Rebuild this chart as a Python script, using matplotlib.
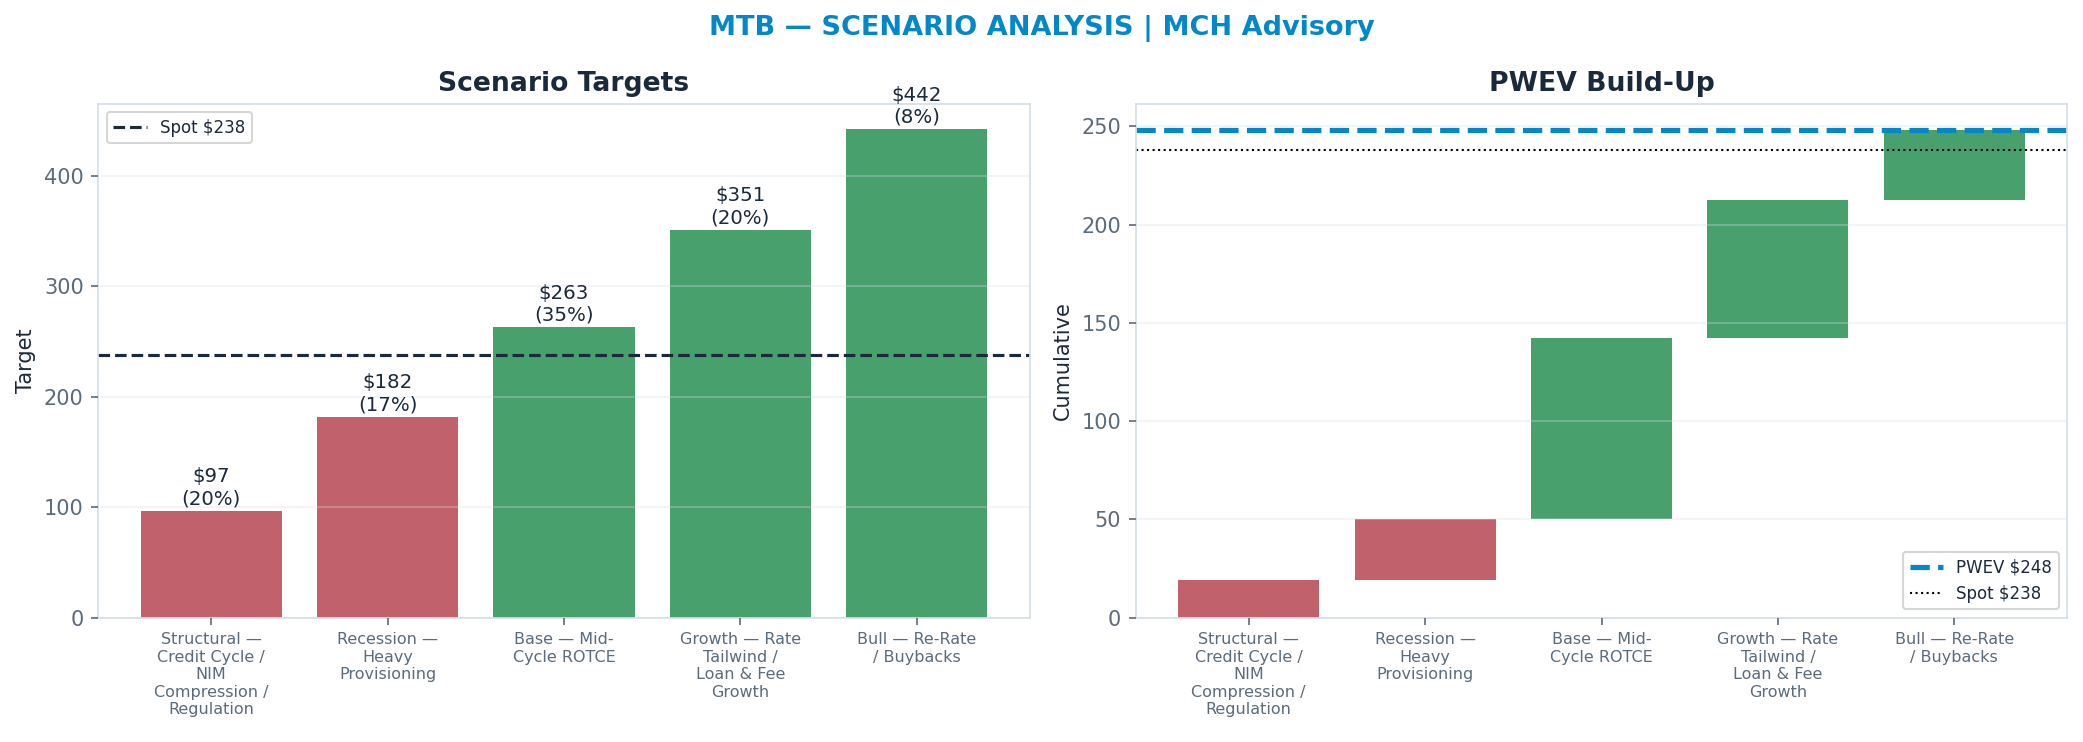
import textwrap
import numpy as np
import matplotlib
matplotlib.use('Agg')
import matplotlib.pyplot as plt

SCENARIOS = ['Structural — Credit Cycle / NIM Compression / Regulation',
             'Recession — Heavy Provisioning',
             'Base — Mid-Cycle ROTCE',
             'Growth — Rate Tailwind / Loan & Fee Growth',
             'Bull — Re-Rate / Buybacks']
TARGETS = [97, 182, 263, 351, 442]
PROBS   = [0.20, 0.17, 0.35, 0.20, 0.08]
SPOT    = 238

RED   = '#c1616c'
GREEN = '#48a06d'
BLUE  = '#0288c9'
NAVY  = '#1b2a3b'
SLATE = '#5a6b7c'
SPINE = '#d3dde8'

plt.rcParams['font.family'] = 'DejaVu Sans'

contrib = [t * p for t, p in zip(TARGETS, PROBS)]
pwev = sum(contrib)
bottoms = np.concatenate([[0], np.cumsum(contrib)[:-1]])
colors = [RED if t < SPOT else GREEN for t in TARGETS]
labels = [textwrap.fill(s, 14) for s in SCENARIOS]
x = np.arange(len(SCENARIOS))

fig = plt.figure(figsize=(2083/150, 742/150), dpi=150)
ax1 = fig.add_axes([0.0472, 0.1674, 0.4471, 0.6929])
ax2 = fig.add_axes([0.5453, 0.1674, 0.4471, 0.6929])

def style(ax):
    for s in ax.spines.values():
        s.set_color(SPINE)
    ax.tick_params(axis='y', colors=SLATE, labelsize=10)
    ax.tick_params(axis='x', colors=SLATE, labelsize=7.7)
    ax.set_axisbelow(False)
    ax.grid(True, axis='y', color='#d9dde2', alpha=0.3, lw=1)
    ax.set_xticks(x)
    ax.set_xticklabels(labels)

# left: scenario targets
ax1.bar(x, TARGETS, 0.8, color=colors)
ax1.axhline(SPOT, color=NAVY, ls='--', lw=1.5, label=f'Spot ${SPOT}')
for xi, t, p in zip(x, TARGETS, PROBS):
    ax1.text(xi, t + 2, f'${t}\n({p*100:.0f}%)', ha='center', va='bottom',
             fontsize=9.5, color=NAVY)
ax1.set_ylim(0, 465)
ax1.set_ylabel('Target', fontsize=10, color=NAVY)
ax1.set_title('Scenario Targets', fontsize=12.8, fontweight='bold', color=NAVY)
ax1.legend(loc='upper left', fontsize=8, labelcolor=NAVY)
style(ax1)

# right: PWEV build-up
ax2.bar(x, contrib, 0.8, bottom=bottoms, color=colors)
ax2.axhline(pwev, color=BLUE, ls='--', lw=2.5, label=f'PWEV ${pwev:.0f}')
ax2.axhline(SPOT, color='black', ls=':', lw=1, label=f'Spot ${SPOT}')
ax2.set_ylim(0, 261.5)
ax2.set_ylabel('Cumulative', fontsize=10, color=NAVY)
ax2.set_title('PWEV Build-Up', fontsize=12.8, fontweight='bold', color=NAVY)
ax2.legend(loc='lower right', fontsize=8, labelcolor=NAVY)
style(ax2)

fig.suptitle('MTB — SCENARIO ANALYSIS | MCH Advisory', fontsize=13,
             fontweight='bold', color=BLUE, y=0.98)

fig.savefig('out.png', dpi=150)
